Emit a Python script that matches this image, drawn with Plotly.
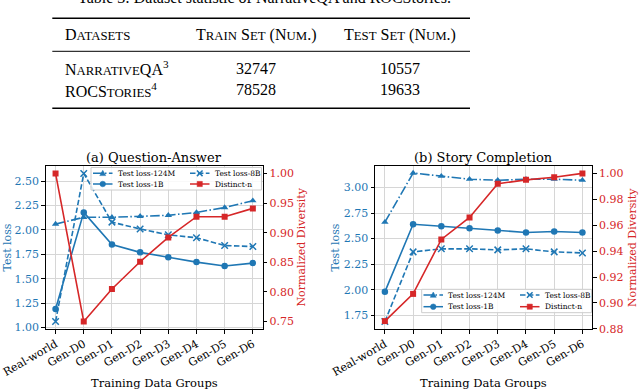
import plotly.graph_objects as go

W, H = 640, 391

groups = ["Real-world", "Gen-D0", "Gen-D1", "Gen-D2", "Gen-D3", "Gen-D4", "Gen-D5", "Gen-D6"]

# (a) Question-Answer
qa_loss_124m = [2.06, 2.13, 2.13, 2.14, 2.15, 2.18, 2.23, 2.30]
qa_loss_1b = [1.19, 2.18, 1.85, 1.77, 1.72, 1.67, 1.63, 1.66]
qa_loss_8b = [1.06, 2.58, 2.08, 2.01, 1.95, 1.92, 1.84, 1.83]
qa_distinct = [1.00, 0.75, 0.805, 0.851, 0.892, 0.927, 0.927, 0.941]

# (b) Story Completion
sc_loss_124m = [2.66, 3.14, 3.11, 3.08, 3.07, 3.08, 3.08, 3.07]
sc_loss_1b = [1.98, 2.64, 2.62, 2.60, 2.58, 2.56, 2.57, 2.56]
sc_loss_8b = [1.69, 2.37, 2.40, 2.40, 2.39, 2.40, 2.37, 2.36]
sc_distinct = [0.886, 0.907, 0.949, 0.966, 0.992, 0.995, 0.997, 1.0]

# table above the plots
table_caption = "Table 3: Dataset statistic of NarrativeQA and ROCStories."
table_header = ["Datasets", "Train Set (Num.)", "Test Set (Num.)"]
datasets = ["NarrativeQA", "ROCStories"]
footnotes = ["3", "4"]
train_num = [32747, 78528]
test_num = [10557, 19633]

BLUE = "#1f77b4"
RED = "#d62728"
SERIF = "DejaVu Serif"
TSERIF = "Liberation Serif"
GRID = "#d6d6d6"


def px(x):
    return x / W


def py(y):
    return 1 - y / H


def smallcaps(s, size=12.8):
    # upper case stays full size, lower case becomes small capitals
    out, buf = "", ""
    for c in s:
        if c.islower():
            buf += c.upper()
        else:
            if buf:
                out += f"<span style='font-size:{size}px'>{buf}</span>"
                buf = ""
            out += c
    if buf:
        out += f"<span style='font-size:{size}px'>{buf}</span>"
    return out


def note(text, x, y, size, color="black", family=SERIF, xanchor="center", **kw):
    return dict(text=text, x=px(x), y=py(y), xref="paper", yref="paper", showarrow=False,
                xanchor=xanchor, yanchor=kw.pop("yanchor", "middle"),
                font=dict(family=family, size=size, color=color), **kw)


styles = {
    "124M": dict(line=dict(color=BLUE, width=1.6, dash="9.6px,2.4px,1.5px,2.4px"),
                 marker=dict(symbol="triangle-up", size=6.5, color=BLUE)),
    "1B": dict(line=dict(color=BLUE, width=1.6),
               marker=dict(symbol="circle", size=6.5, color=BLUE)),
    "8B": dict(line=dict(color=BLUE, width=1.6, dash="5.5px,2.4px"),
               marker=dict(symbol="x-thin", size=6.5, color=BLUE, line=dict(color=BLUE, width=1.5))),
    "dist": dict(line=dict(color=RED, width=1.6),
                 marker=dict(symbol="square", size=6, color=RED)),
}

panels = [
    dict(title="(a) Question-Answer", x0=45.7, x1=262.7,
         loss={"124M": qa_loss_124m, "1B": qa_loss_1b, "8B": qa_loss_8b}, dist=qa_distinct,
         lrange=[0.984, 2.656], ldtick=0.25, rrange=[0.7375, 1.0125], rdtick=0.05,
         ltitle_x=7, rtitle_x=301,
         legend=dict(box=(91, 167.5, 261.5, 190), cols=(93, 190), rows=(173.3, 184))),
    dict(title="(b) Story Completion", x0=375, x1=592.3,
         loss={"124M": sc_loss_124m, "1B": sc_loss_1b, "8B": sc_loss_8b}, dist=sc_distinct,
         lrange=[1.617, 3.209], ldtick=0.25, rrange=[0.8799, 1.0057], rdtick=0.02,
         ltitle_x=335, rtitle_x=632.5,
         legend=dict(box=(421.7, 289.3, 591.5, 312.7), cols=(423.5, 520), rows=(295, 306.7))),
]

TOP, BOT = 166, 329

fig = go.Figure()
layout = {}
shapes = []
annotations = []

for i, p in enumerate(panels):
    xa = "x" if i == 0 else "x2"
    yl = "y" if i == 0 else "y3"
    yr = "y2" if i == 0 else "y4"
    for key in ["124M", "1B", "8B"]:
        fig.add_trace(go.Scatter(x=groups, y=p["loss"][key], xaxis=xa, yaxis=yl,
                                 mode="lines+markers", showlegend=False, **styles[key]))
    fig.add_trace(go.Scatter(x=groups, y=p["dist"], xaxis=xa, yaxis=yr,
                             mode="lines+markers", showlegend=False, **styles["dist"]))

    xname = "xaxis" if i == 0 else "xaxis2"
    ylname = "yaxis" if i == 0 else "yaxis3"
    yrname = "yaxis2" if i == 0 else "yaxis4"
    dom_y = [py(BOT), py(TOP)]
    layout[xname] = dict(
        domain=[px(p["x0"]), px(p["x1"])], anchor=yl, type="category", automargin=False,
        range=[-0.35, 7.35], showline=True, mirror=True, linecolor="black", linewidth=1,
        ticks="outside", ticklen=3.5, tickcolor="black", tickwidth=1, tickangle=-30,
        tickfont=dict(family=SERIF, size=11, color="black"),
        showgrid=True, gridcolor=GRID, gridwidth=1, zeroline=False)
    layout[ylname] = dict(
        domain=dom_y, anchor=xa, range=p["lrange"], dtick=p["ldtick"], tick0=0, automargin=False,
        tickformat=".2f", ticks="outside", ticklen=3.5, tickcolor="black", tickwidth=1,
        tickfont=dict(family=SERIF, size=11, color=BLUE), showline=True, linecolor="black",
        linewidth=1, showgrid=True, gridcolor=GRID, gridwidth=1, zeroline=False)
    layout[yrname] = dict(
        overlaying=yl, side="right", anchor=xa, domain=dom_y, range=p["rrange"],
        dtick=p["rdtick"], tick0=0, automargin=False,
        tickformat=".2f", ticks="outside", ticklen=3.5, tickcolor="black", tickwidth=1,
        tickfont=dict(family=SERIF, size=11, color=RED), showline=True, linecolor="black",
        linewidth=1, showgrid=False, zeroline=False)

    cx = (p["x0"] + p["x1"]) / 2
    mid = (TOP + BOT) / 2
    annotations += [
        note(p["title"], cx, 157, 13),
        note("Training Data Groups", cx, 383, 11.5),
        note("Test loss", p["ltitle_x"], mid, 11, BLUE, textangle=-90),
        note("Normalized Diversity", p["rtitle_x"], mid, 11, RED, textangle=-90),
    ]

    # legend (two columns, drawn by hand to keep matplotlib spacing)
    lg = p["legend"]
    bx0, by0, bx1, by1 = lg["box"]
    shapes.append(dict(type="rect", xref="paper", yref="paper", layer="above",
                       x0=px(bx0), x1=px(bx1), y0=py(by0), y1=py(by1),
                       fillcolor="rgba(255,255,255,0.85)", line=dict(color="#cccccc", width=1)))
    entries = [("124M", "Test loss-124M", 0, 0), ("8B", "Test loss-8B", 1, 0),
               ("1B", "Test loss-1B", 0, 1), ("dist", "Distinct-n", 1, 1)]
    for key, label, c, r in entries:
        sx, sy = lg["cols"][c], lg["rows"][r]
        st = styles[key]
        col = st["line"]["color"]
        shapes.append(dict(type="line", xref="paper", yref="paper", layer="above",
                           x0=px(sx), x1=px(sx + 19.5), y0=py(sy), y1=py(sy),
                           line=dict(color=col, width=1.5, dash=st["line"].get("dash", "solid"))))
        mx = sx + 9.75
        if key == "124M":
            path = (f"M{px(mx)},{py(sy - 3)} L{px(mx + 3)},{py(sy + 2.3)} "
                    f"L{px(mx - 3)},{py(sy + 2.3)} Z")
            shapes.append(dict(type="path", xref="paper", yref="paper", layer="above",
                               path=path, fillcolor=col, line=dict(color=col, width=0.5)))
        elif key == "1B":
            shapes.append(dict(type="circle", xref="paper", yref="paper", layer="above",
                               x0=px(mx - 2.8), x1=px(mx + 2.8), y0=py(sy - 2.8), y1=py(sy + 2.8),
                               fillcolor=col, line=dict(color=col, width=0.5)))
        elif key == "8B":
            path = (f"M{px(mx - 2.8)},{py(sy - 2.8)} L{px(mx + 2.8)},{py(sy + 2.8)} "
                    f"M{px(mx - 2.8)},{py(sy + 2.8)} L{px(mx + 2.8)},{py(sy - 2.8)}")
            shapes.append(dict(type="path", xref="paper", yref="paper", layer="above",
                               path=path, line=dict(color=col, width=1.5)))
        else:
            shapes.append(dict(type="rect", xref="paper", yref="paper", layer="above",
                               x0=px(mx - 2.6), x1=px(mx + 2.6), y0=py(sy - 2.6), y1=py(sy + 2.6),
                               fillcolor=col, line=dict(color=col, width=0.5)))
        annotations.append(note(label, sx + 22.5, sy, 7.5, xanchor="left"))

# table (its caption is cut by the top edge, as in the source page)
annotations.append(note(table_caption, 264, 8, 16, family=TSERIF, yanchor="bottom"))
col_x = [63.3, 256, 400]
annotations.append(note(smallcaps(table_header[0]), col_x[0], 35, 16, family=TSERIF,
                        xanchor="left"))
for j in (1, 2):
    annotations.append(note(smallcaps(table_header[j]), col_x[j], 35, 16, family=TSERIF))
row_y = [68, 90]
for k, name in enumerate(datasets):
    annotations.append(note(smallcaps(name) + f"<sup>{footnotes[k]}</sup>", col_x[0], row_y[k],
                            16, family=TSERIF, xanchor="left"))
    for j, val in ((1, train_num[k]), (2, test_num[k])):
        annotations.append(note(str(val), col_x[j], row_y[k], 16, family=TSERIF))
for yy, lw in ((18.3, 1.6), (51.3, 1.0), (108.3, 1.6)):
    shapes.append(dict(type="line", xref="paper", yref="paper", layer="above",
                       x0=px(52.3), x1=px(470), y0=py(yy), y1=py(yy),
                       line=dict(color="black", width=lw)))

fig.update_layout(
    width=W, height=H,
    margin=dict(l=0, r=0, t=0, b=0, pad=0),
    paper_bgcolor="white", plot_bgcolor="white",
    showlegend=False,
    shapes=shapes, annotations=annotations,
    **layout,
)

# the page's default body margin would shift the 640x391 figure by 8px
fig.write_html("out.html", config={"displayModeBar": False},
               post_script="document.body.style.margin = '0px';")
